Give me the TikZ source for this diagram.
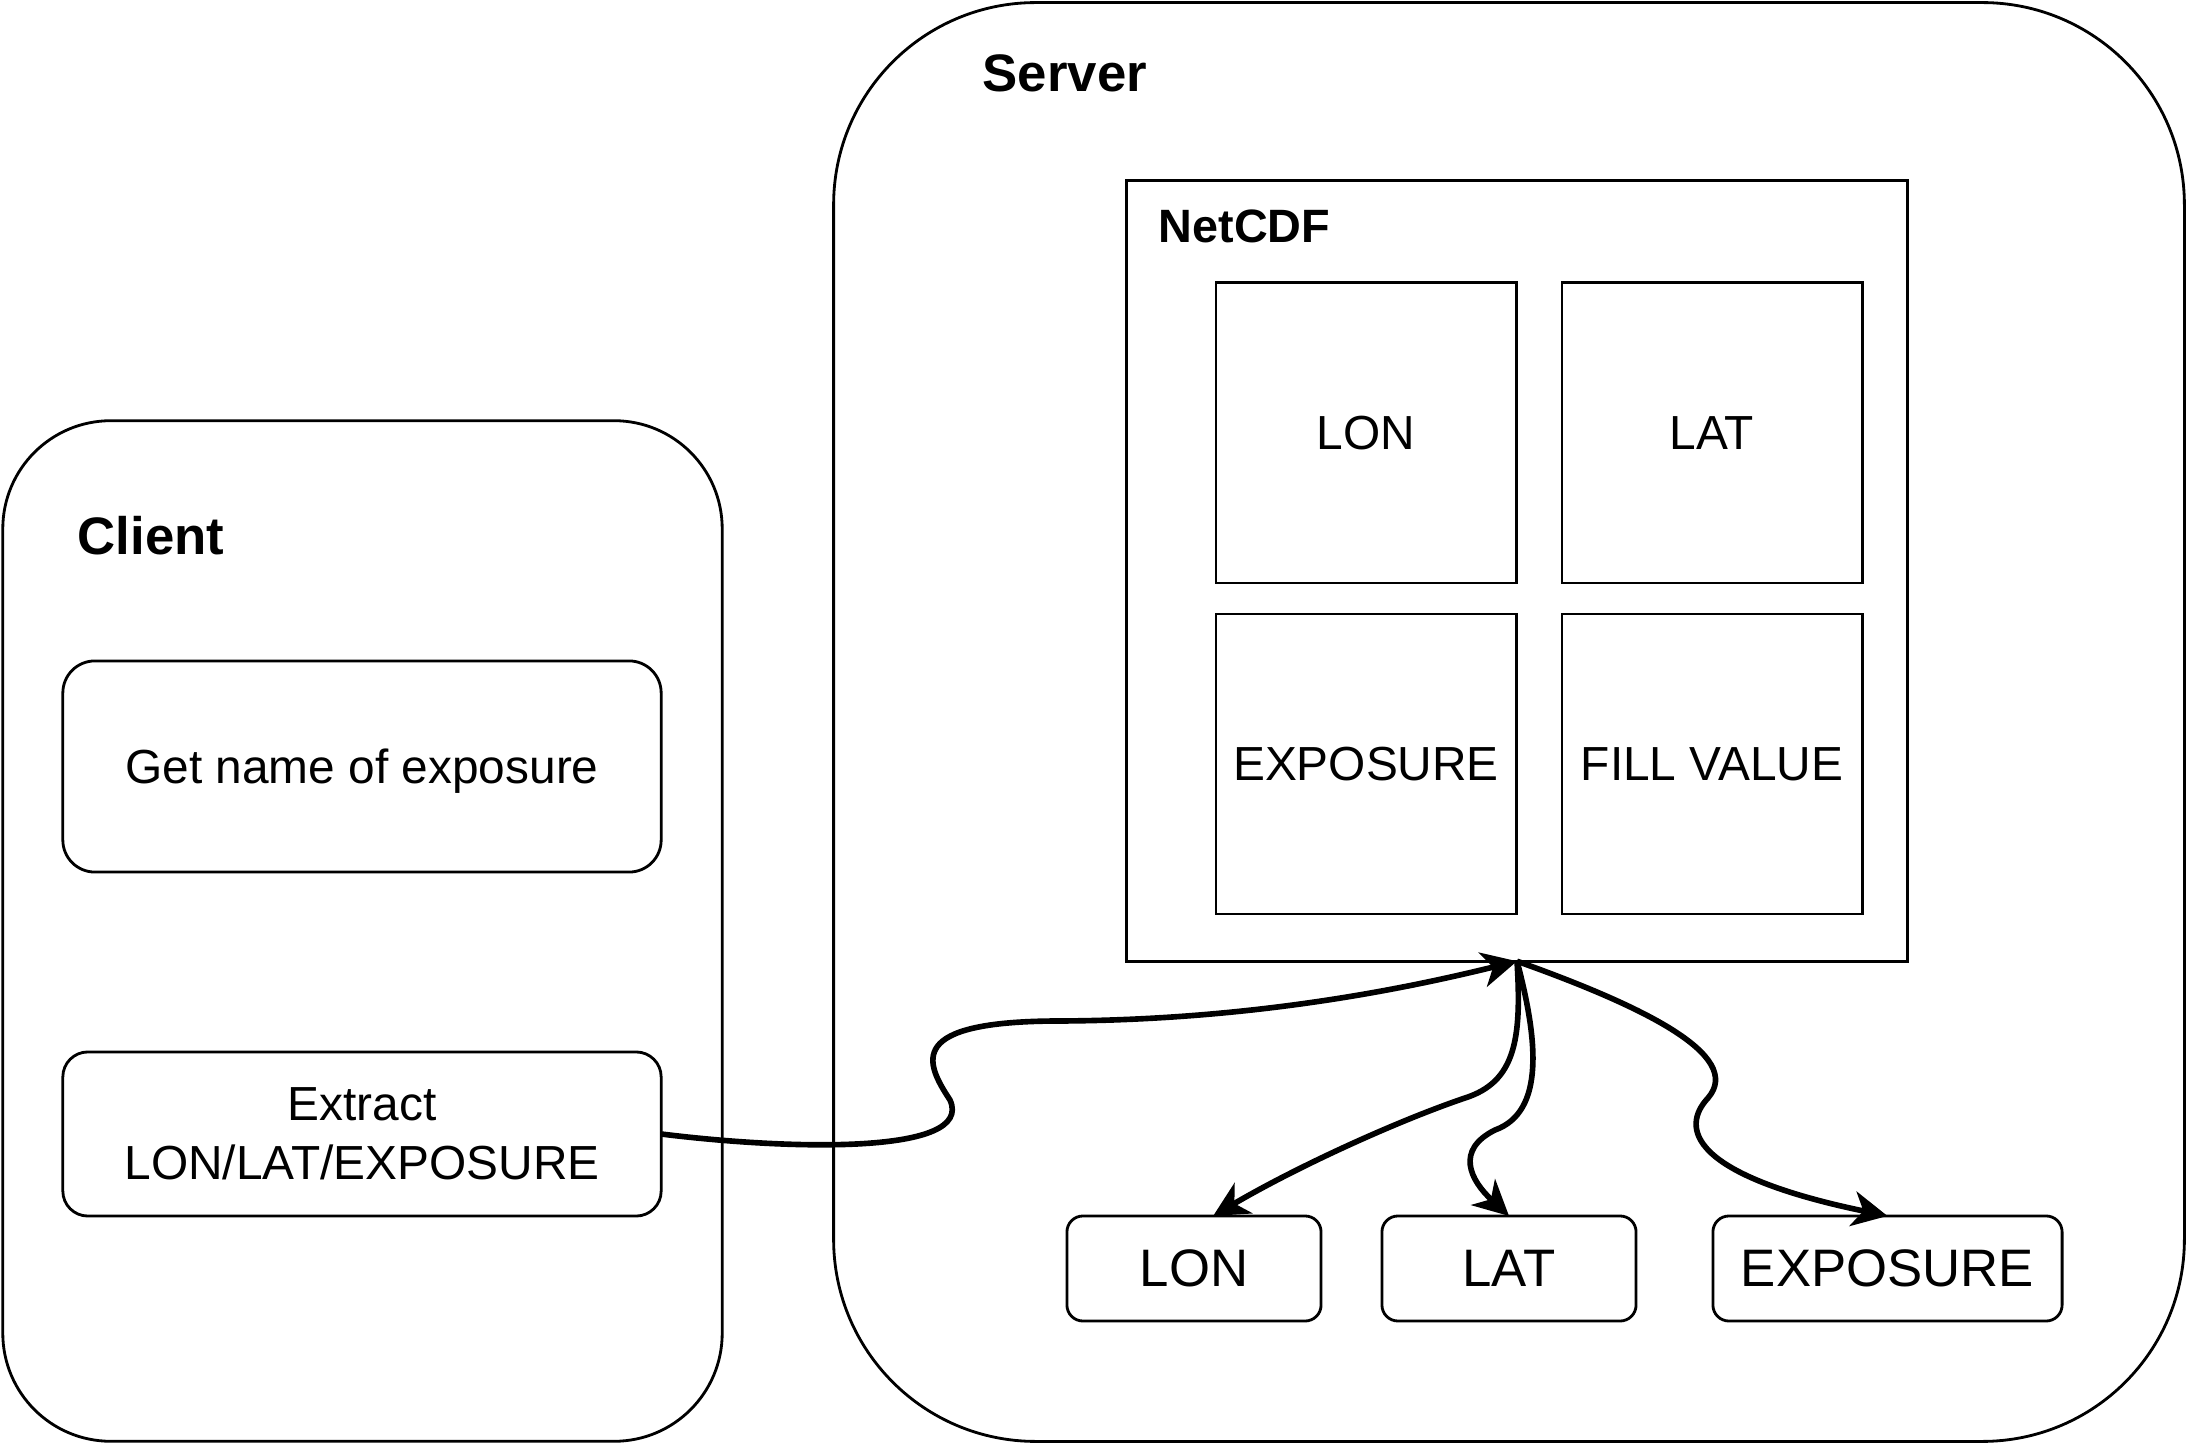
\documentclass[tikz,border=0pt]{standalone}
\usepackage{fontspec}
\setmainfont{Liberation Sans}
\usetikzlibrary{arrows.meta}
\tikzset{
  box/.style={draw, line width=0.8pt, inner sep=0pt, outer sep=0pt, align=center},
  txt/.style={font=\fontsize{13.6}{16.7}\selectfont},
  big/.style={font=\fontsize{15}{18}\selectfont},
  head/.style={font=\fontsize{15}{18}\selectfont\bfseries, anchor=west, inner sep=0pt},
  arr/.style={-{Stealth[length=10pt, width=10pt, inset=3pt]}, line width=1.6pt},
}
\begin{document}
\begin{tikzpicture}[x=0.01cm, y=-0.01cm]
\useasboundingbox (0,0) rectangle (2187,1443);
% containers
\node[box, rounded corners=1.08cm, minimum width=7.19cm, minimum height=10.2cm] (client) at (362.5,931) {};
\node[box, rounded corners=2.02cm, minimum width=13.5cm, minimum height=14.38cm] (server) at (1509,722) {};
\node[head] (clientlabel) at (77,536) {Client};
\node[head] (serverlabel) at (982,73) {Server};
% client steps
\node[box, txt, text depth=0pt, rounded corners=0.32cm, minimum width=5.98cm, minimum height=2.11cm] (getname) at (362,766.5) {Get name of exposure};
\node[box, txt, rounded corners=0.25cm, minimum width=5.98cm, minimum height=1.64cm] (extract) at (362,1134) {Extract\\LON/LAT/EXPOSURE};
% netcdf file
\node[box, minimum width=7.8cm, minimum height=7.8cm] (netcdf) at (1517,571) {};
\node[head, font=\fontsize{13.3}{16}\selectfont\bfseries] (netcdflabel) at (1158,226) {NetCDF};
\node[box, txt, minimum width=3cm, minimum height=3cm] (lon) at (1366,433) {LON};
\node[box, txt, minimum width=3cm, minimum height=3cm] (lat) at (1712,433) {LAT};
\node[box, txt, minimum width=3cm, minimum height=3cm] (exposure) at (1366,764) {EXPOSURE};
\node[box, txt, minimum width=3cm, minimum height=3cm] (fill) at (1712,764) {FILL VALUE};
% extracted variables
\node[box, big, rounded corners=0.16cm, minimum width=2.54cm, minimum height=1.05cm] (lonout) at (1194,1268.5) {LON};
\node[box, big, rounded corners=0.16cm, minimum width=2.54cm, minimum height=1.05cm] (latout) at (1509,1268.5) {LAT};
\node[box, big, rounded corners=0.16cm, minimum width=3.49cm, minimum height=1.05cm] (expout) at (1887.5,1268.5) {EXPOSURE};
% connectors
\draw[arr] (extract.east) .. controls (790,1150) and (975,1155) .. (950,1100)
  .. controls (925,1062) and (905,1021) .. (1060,1021)
  .. controls (1250,1020) and (1400,990) .. (netcdf.south);
\draw[arr] (netcdf.south) .. controls (1522,1040) and (1515,1082) .. (1465,1098)
  .. controls (1400,1120) and (1300,1165) .. (lonout.70);
\draw[arr] (netcdf.south) .. controls (1538,1040) and (1545,1112) .. (1495,1130)
  .. controls (1455,1150) and (1470,1180) .. (latout.north);
\draw[arr] (netcdf.south) .. controls (1640,1005) and (1745,1055) .. (1708,1098)
  .. controls (1680,1128) and (1690,1175) .. (expout.north);
\end{tikzpicture}
\end{document}
